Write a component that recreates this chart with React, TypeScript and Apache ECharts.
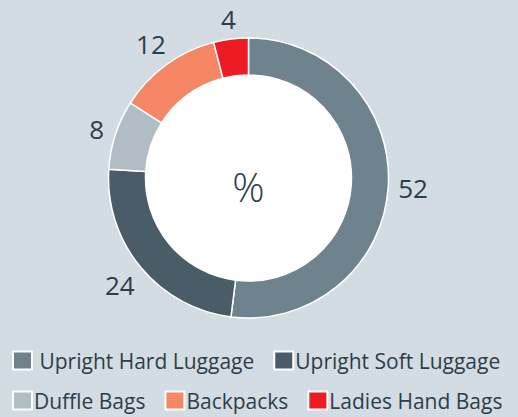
import React, { useEffect, useRef } from "react";
import * as echarts from "echarts";

const categories = ["Upright Hard Luggage", "Upright Soft Luggage", "Duffle Bags", "Backpacks", "Ladies Hand Bags"];
const values = [52, 24, 8, 12, 4];
const colors = ["#6f838f", "#4a5c68", "#b0bdc4", "#f58666", "#ed1c24"];
const legendRow1 = categories.slice(0, 2);
const legendRow2 = categories.slice(2);
const centerText = "%";

const TEXT = "#2d3e48";
const BG = "#d3dce2";
const FONT = "'Open Sans', sans-serif";
const CX = 248.5;
const CY = 178;
const R_IN = 103;
const R_OUT = 140;
const LABEL_GAP = 9.5;
const LABEL_SIZE = 26;

export default function App() {
  const ref = useRef<HTMLDivElement>(null);
  useEffect(() => {
    if (!ref.current) return;
    const chart = echarts.init(ref.current, null, { renderer: "svg" });
    const data = categories.map((name, i) => ({ name, value: values[i], itemStyle: { color: colors[i] } }));
    const total = values.reduce((a, b) => a + b, 0);
    const midAngles: number[] = [];
    let acc = 0;
    values.forEach((v) => {
      midAngles.push(((acc + v / 2) / total) * Math.PI * 2);
      acc += v;
    });
    const legendBase = {
      orient: "horizontal" as const,
      left: 12,
      padding: 0,
      itemWidth: 19,
      itemHeight: 18,
      itemGap: 19,
      icon: "rect",
      textStyle: { color: TEXT, fontSize: 21, fontFamily: FONT, padding: [0, 0, 0, -3] },
      selectedMode: false,
    };
    chart.setOption({
      animation: false,
      backgroundColor: BG,
      textStyle: { fontFamily: FONT },
      legend: [
        { ...legendBase, top: 350, data: legendRow1, formatter: (n: string) => (n === categories[0] ? " " + n : n) },
        { ...legendBase, top: 390, data: legendRow2 },
      ],
      graphic: [
        {
          type: "text",
          x: CX,
          y: CY + 8,
          z: 100,
          silent: true,
          style: { text: centerText, fill: TEXT, font: `300 40px ${FONT}`, align: "center", verticalAlign: "middle" },
        },
      ],
      series: [
        {
          type: "pie",
          name: "main",
          center: [CX, CY],
          radius: [R_IN, R_OUT],
          clockwise: true,
          startAngle: 90,
          avoidLabelOverlap: false,
          silent: true,
          itemStyle: { borderColor: "#ffffff", borderWidth: 1.5 },
          label: {
            show: true,
            position: "outside",
            formatter: "{c}",
            color: TEXT,
            fontSize: LABEL_SIZE,
            fontFamily: FONT,
          },
          labelLine: { show: false },
          labelLayout: (params: any) => {
            const t = midAngles[params.dataIndex];
            const ux = Math.sin(t);
            const uy = -Math.cos(t);
            const w = params.labelRect.width / 2;
            const h = LABEL_SIZE * 0.37;
            const d = R_OUT + LABEL_GAP + Math.abs(ux) * w + Math.abs(uy) * h;
            return { x: CX + d * ux, y: CY + d * uy, align: "center", verticalAlign: "middle" };
          },
          data,
          z: 3,
        },
        {
          type: "pie",
          name: "hole",
          center: [CX, CY],
          radius: [0, R_IN],
          silent: true,
          label: { show: false },
          labelLine: { show: false },
          itemStyle: { color: "#ffffff" },
          data: [{ name: "", value: 1 }],
          z: 2,
        },
      ],
    });
    return () => chart.dispose();
  }, []);
  return (
    <div
      ref={ref}
      style={{ position: "fixed", left: 0, top: 0, width: 518, height: 417, background: BG }}
    />
  );
}
